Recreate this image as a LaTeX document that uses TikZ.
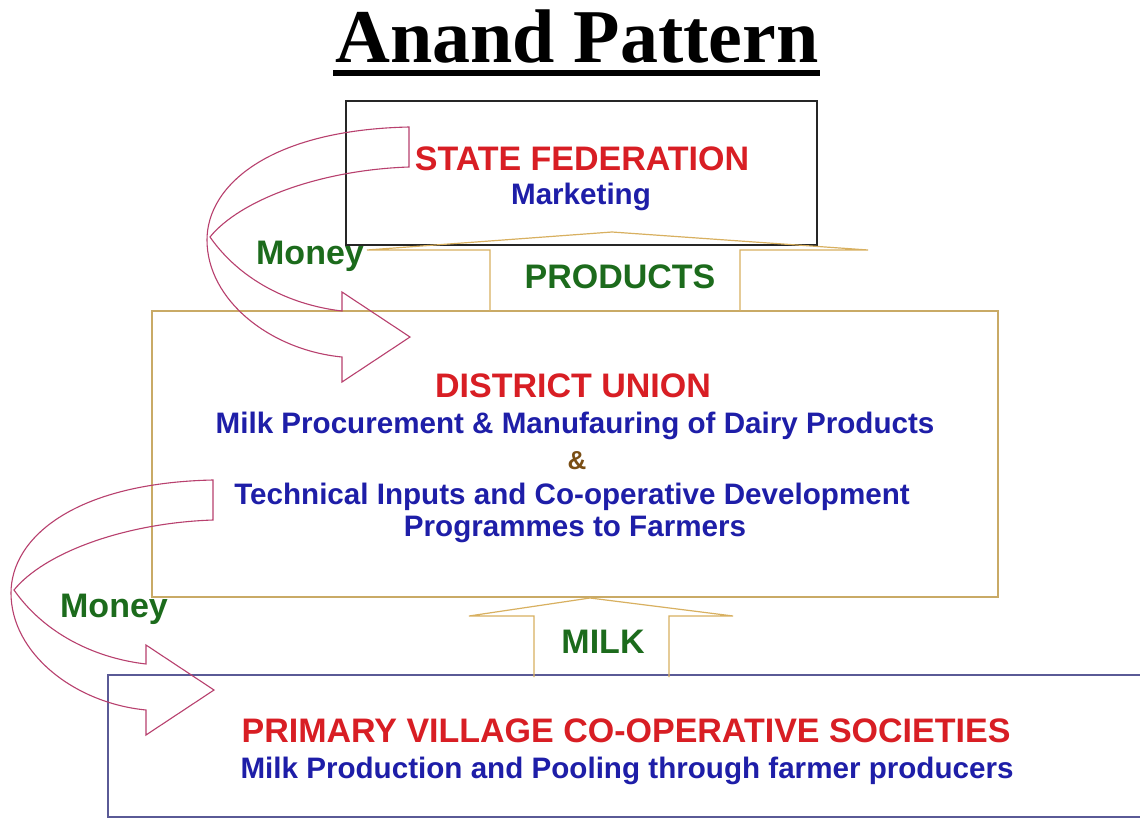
\documentclass[tikz,border=0pt]{standalone}
\usepackage{fontspec}
\setmainfont{Liberation Sans}
\newfontfamily\titlefont{Liberation Serif}
\definecolor{tred}{HTML}{D81E24}
\definecolor{tblue}{HTML}{1E1EA8}
\definecolor{tgreen}{HTML}{1C6B1C}
\definecolor{tbrown}{HTML}{7A4E14}
\definecolor{tgold}{HTML}{D8B060}
\definecolor{tboxgold}{HTML}{C9AA66}
\definecolor{tpink}{HTML}{B8406E}
\definecolor{tslate}{HTML}{5A5A96}
\tikzset{
  redtxt/.style={anchor=base, inner sep=0pt, text=tred, font=\bfseries\fontsize{34}{40}\selectfont},
  bluetxt/.style={anchor=base, inner sep=0pt, text=tblue, font=\bfseries\fontsize{29.6}{34}\selectfont},
  greentxt/.style={anchor=base, inner sep=0pt, text=tgreen, font=\bfseries\fontsize{34}{40}\selectfont},
  goldarrow/.style={draw=tgold, line width=1.2pt, line join=miter},
  moneyarrow/.pic={
    \draw[tpink, line width=1.1pt] (0,0) -- (0,40)
      .. controls (-89,43) and (-169,73) .. (-199,110)
      .. controls (-169,153) and (-119,178) .. (-67,184)
      -- (-67,165) -- (1,210) -- (-67,255) -- (-67,230)
      .. controls (-139,223) and (-202,173) .. (-202,113)
      .. controls (-202,58) and (-139,3) .. cycle;
  }
}
\begin{document}
\begin{tikzpicture}[x=1pt,y=-1pt]
\clip (0,0) rectangle (1140,819);
\fill[white] (0,0) rectangle (1140,819);

% title
\node[anchor=base, inner sep=0pt, font=\titlefont\bfseries\fontsize{76}{80}\selectfont] (title) at (577,62) {Anand Pattern};
\fill[black] (333,70) rectangle (820,76);

% boxes
\node[draw=black!85, line width=1.2pt, minimum width=471pt, minimum height=144pt, inner sep=0pt] (state) at (581.5,173) {};
\node[draw=tboxgold, line width=1.3pt, minimum width=846pt, minimum height=286pt, inner sep=0pt] (district) at (575,454) {};
\node[draw=tslate, line width=1.4pt, minimum width=1050pt, minimum height=142pt, inner sep=0pt] (primary) at (633,746) {};

% block arrows
\draw[goldarrow] (490,311) -- (490,250) -- (367,250) -- (612,232) -- (868,250) -- (740,250) -- (740,311);
\draw[goldarrow] (534,677) -- (534,616) -- (469,616) -- (590,598) -- (733,616) -- (669,616) -- (669,677);

% money arrows
\pic at (409,127) {moneyarrow};
\pic at (213,480) {moneyarrow};

% texts
\node[redtxt] (sf) at (582,170) {STATE FEDERATION};
\node[bluetxt] (mk) at (581,204) {Marketing};
\node[greentxt] (money1) at (310,264) {Money};
\node[greentxt] (prod) at (620,288) {PRODUCTS};
\node[redtxt] (du) at (573,397) {DISTRICT UNION};
\node[bluetxt] (du1) at (575,433) {Milk Procurement \& Manufauring of Dairy Products};
\node[anchor=base, inner sep=0pt, text=tbrown, font=\bfseries\fontsize{26}{30}\selectfont] (amp) at (577,469) {\&};
\node[bluetxt] (du2) at (572,504) {Technical Inputs and Co-operative Development};
\node[bluetxt] (du3) at (575,536) {Programmes to Farmers};
\node[greentxt] (milk) at (603,653) {MILK};
\node[greentxt] (money2) at (114,617) {Money};
\node[redtxt] (pv) at (626,742) {PRIMARY VILLAGE CO-OPERATIVE SOCIETIES};
\node[bluetxt] (pv1) at (627,778) {Milk Production and Pooling through farmer producers};
\end{tikzpicture}
\end{document}
